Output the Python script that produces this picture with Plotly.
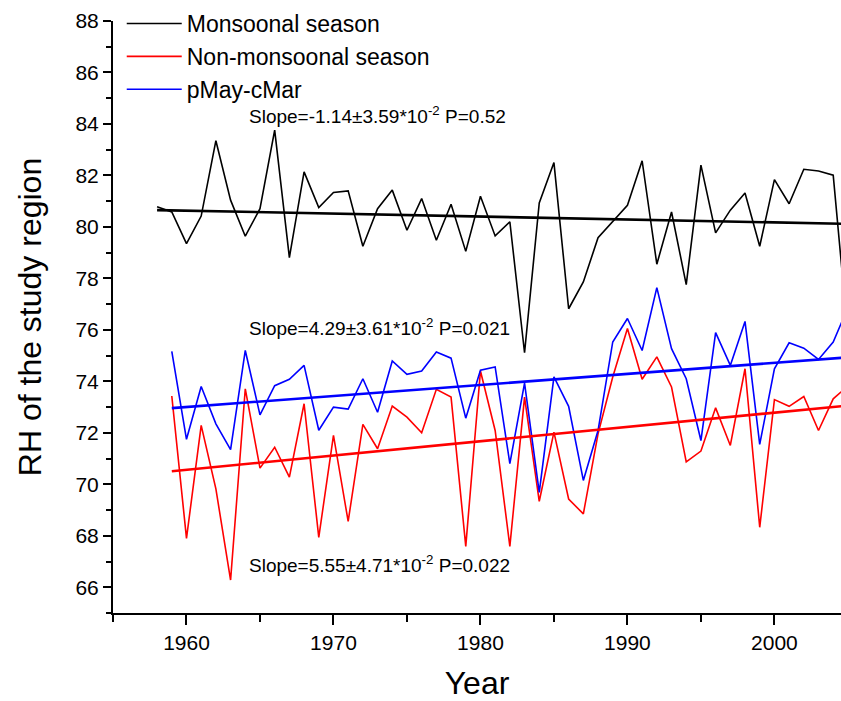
import numpy as np
import plotly.graph_objects as go

# Relative humidity series of the study region
years_monsoon = list(range(1958, 2006))
rh_monsoon = [80.78, 80.58, 79.35, 80.42, 83.35, 81.04, 79.64, 80.71, 83.76, 78.81,
              82.14, 80.75, 81.34, 81.40, 79.25, 80.71, 81.43, 79.87, 81.10, 79.48,
              80.88, 79.05, 81.19, 79.65, 80.20, 75.11, 80.93, 82.50, 76.82, 77.86,
              79.58, 80.20, 80.84, 82.57, 78.55, 80.58, 77.76, 82.40, 79.77, 80.65,
              81.32, 79.25, 81.84, 80.90, 82.24, 82.17, 82.01, 75.80]

years_other = list(range(1959, 2006))
rh_non_monsoon = [73.43, 67.90, 72.29, 69.82, 66.28, 73.71, 70.63, 71.44, 70.28, 73.13,
                  67.94, 71.90, 68.56, 72.33, 71.38, 73.04, 72.61, 72.00, 73.69, 73.39,
                  67.59, 74.40, 72.09, 67.59, 73.39, 69.34, 72.03, 69.43, 68.85, 71.96,
                  74.17, 76.05, 74.08, 74.95, 73.78, 70.87, 71.29, 72.97, 71.51, 74.49,
                  68.33, 73.29, 73.03, 73.41, 72.09, 73.32, 73.82]
rh_pmay_cmar = [75.16, 71.75, 73.80, 72.35, 71.35, 75.20, 72.70, 73.83, 74.08, 74.62,
                72.10, 73.00, 72.92, 74.10, 72.80, 74.79, 74.27, 74.40, 75.14, 74.90,
                72.57, 74.43, 74.56, 70.80, 73.93, 69.69, 74.17, 73.03, 70.15, 72.09,
                75.53, 76.44, 75.20, 77.64, 75.27, 74.10, 71.70, 75.89, 74.62, 76.33,
                71.55, 74.49, 75.50, 75.29, 74.85, 75.53, 76.86]

# Linear trends (slope per year, its error, and significance)
slope_monsoon, err_monsoon, p_monsoon = -1.14e-2, 3.59e-2, "0.52"
slope_pmay, err_pmay, p_pmay = 4.29e-2, 3.61e-2, "0.021"
slope_non, err_non, p_non = 5.55e-2, 4.71e-2, "0.022"

series = [
    ("Monsoonal season", years_monsoon, rh_monsoon, slope_monsoon, "#000000"),
    ("Non-monsoonal season", years_other, rh_non_monsoon, slope_non, "#ff0000"),
    ("pMay-cMar", years_other, rh_pmay_cmar, slope_pmay, "#0000ff"),
]

FONT = "Liberation Sans, Arial, sans-serif"

fig = go.Figure()
for i, (name, xs, ys, slope, color) in enumerate(series):
    fig.add_trace(go.Scatter(x=xs, y=ys, mode="lines", name=name,
                             line=dict(color=color, width=1.6),
                             legendgroup=str(i)))

# Trend lines: stated slope, passing through the series mean
for name, xs, ys, slope, color in series:
    x = np.array(xs, dtype=float)
    y = np.array(ys, dtype=float)
    intercept = y.mean() - slope * x.mean()
    fig.add_trace(go.Scatter(x=[x[0], x[-1]], y=[intercept + slope * x[0], intercept + slope * x[-1]],
                             mode="lines", showlegend=False, hoverinfo="skip",
                             line=dict(color=color, width=2.6)))


def slope_label(slope, err, p):
    return f"Slope={slope * 100:.2f}±{err * 100:.2f}*10<sup>-2</sup> P={p}"


labels = [
    (slope_label(slope_monsoon, err_monsoon, p_monsoon), 84.35),
    (slope_label(slope_pmay, err_pmay, p_pmay), 76.1),
    (slope_label(slope_non, err_non, p_non), 66.92),
]
for text, yv in labels:
    fig.add_annotation(x=1964.1, y=yv, xref="x", yref="y", text=text, showarrow=False,
                       xanchor="left", yanchor="middle",
                       font=dict(family=FONT, size=19, color="#000000"))

axis_common = dict(showline=True, linecolor="#000000", linewidth=2, mirror=False,
                   showgrid=False, zeroline=False, ticks="outside", tickcolor="#000000",
                   tickwidth=2)

fig.update_xaxes(range=[1955, 2004.53], tick0=1960, dtick=10, ticklen=10,
                 tickfont=dict(family=FONT, size=21, color="#000000"),
                 minor=dict(dtick=5, tick0=1955, ticks="outside", ticklen=7, tickwidth=2,
                            tickcolor="#000000"),
                 title=dict(text="Year", font=dict(family=FONT, size=32, color="#000000"),
                            standoff=18),
                 **axis_common)
fig.update_yaxes(range=[65, 88], tick0=66, dtick=2, ticklen=8,
                 tickfont=dict(family=FONT, size=21, color="#000000"),
                 minor=dict(dtick=1, tick0=65, ticks="outside", ticklen=5, tickwidth=2,
                            tickcolor="#000000"),
                 title=dict(text="RH of the study region",
                            font=dict(family=FONT, size=32, color="#000000"), standoff=24),
                 **axis_common)

fig.update_layout(
    width=841, height=701,
    margin=dict(l=113, r=0, t=21, b=88),
    plot_bgcolor="#ffffff", paper_bgcolor="#ffffff",
    showlegend=True,
    legend=dict(x=0.012, y=1.032, xanchor="left", yanchor="top",
                bgcolor="rgba(0,0,0,0)", borderwidth=0,
                font=dict(family=FONT, size=23, color="#000000"),
                itemwidth=55, tracegroupgap=0, itemclick=False),
)

fig.write_html("out.html")
